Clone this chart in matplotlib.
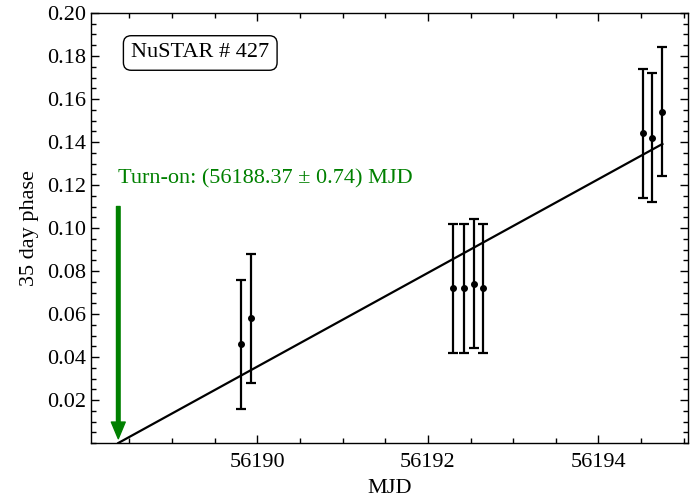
import numpy as np
import matplotlib
matplotlib.use("Agg")
import matplotlib.pyplot as plt
from matplotlib.ticker import MultipleLocator, FormatStrFormatter

# Observation times (MJD), 35-day phase and 1-sigma errors
mjd = [56189.81, 56189.93, 56192.30, 56192.42, 56192.54, 56192.65,
       56194.52, 56194.63, 56194.75]
phase = [0.046, 0.058, 0.072, 0.072, 0.074, 0.072, 0.144, 0.142, 0.154]
phase_err = [0.030, 0.030, 0.030, 0.030, 0.030, 0.030, 0.030, 0.030, 0.030]

# Linear fit: phase grows from zero at the turn-on time
turn_on = 56188.37
turn_on_err = 0.74
fit_slope = 0.0218
fit_end = 56194.75

x_ticks = [56190, 56192, 56194]
y_ticks = [0.02, 0.04, 0.06, 0.08, 0.10, 0.12, 0.14, 0.16, 0.18, 0.20]

plt.rcParams['font.family'] = ['Liberation Serif', 'DejaVu Serif']

fig = plt.figure(figsize=(6.92, 4.98), dpi=100)
ax = fig.add_axes([0.1315, 0.1104, 0.8627, 0.8635])

fit_x = np.array([turn_on, fit_end])
ax.plot(fit_x, fit_slope * (fit_x - turn_on), color='black', lw=1.6, zorder=2)

ax.errorbar(mjd, phase, yerr=phase_err, fmt='o', color='black', ms=4,
            elinewidth=1.6, capsize=3.3, capthick=1.6, zorder=3)

ax.annotate('', xy=(turn_on, 0.002), xytext=(turn_on, 0.11),
            arrowprops=dict(facecolor='green', edgecolor='green', width=2.6,
                            headwidth=10, headlength=12, shrink=0))
ax.text(turn_on, 0.123, f'Turn-on: ({turn_on:.2f} \u00b1 {turn_on_err:.2f}) MJD',
        color='green', fontsize=16, ha='left', va='center')

ax.text(0.183, 0.907, 'NuSTAR # 427', transform=ax.transAxes, fontsize=16,
        ha='center', va='center',
        bbox=dict(boxstyle='round,pad=0.35', facecolor='white',
                  edgecolor='black', lw=1.0))

ax.set_xlim(56188.05, 56195.05)
ax.set_ylim(0.0, 0.2)
ax.set_xticks(x_ticks)
ax.set_yticks(y_ticks)
ax.ticklabel_format(axis='x', useOffset=False, style='plain')
ax.xaxis.set_minor_locator(MultipleLocator(0.5))
ax.yaxis.set_minor_locator(MultipleLocator(0.005))
ax.yaxis.set_major_formatter(FormatStrFormatter('%.2f'))
ax.tick_params(which='both', direction='in', top=True, right=True,
               labelsize=16, width=1.0)
ax.tick_params(which='major', length=6)
ax.tick_params(which='minor', length=3.5)
ax.tick_params(axis='x', which='major', pad=7)
for s in ax.spines.values():
    s.set_linewidth(1.0)

ax.set_xlabel('MJD', fontsize=16, labelpad=5)
ax.set_ylabel('35 day phase', fontsize=16, labelpad=6)

fig.savefig('out.png', dpi=100)
